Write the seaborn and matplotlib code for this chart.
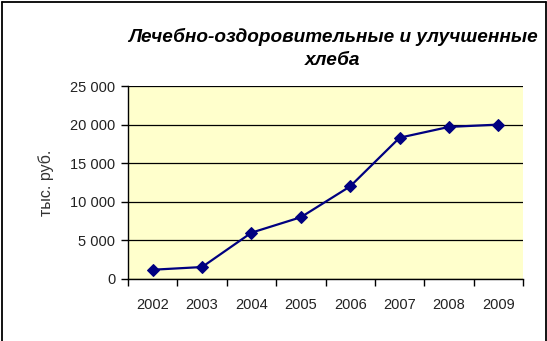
import matplotlib
matplotlib.use("Agg")
import matplotlib.pyplot as plt
import seaborn as sns
import numpy as np
import pandas as pd
from matplotlib.ticker import FuncFormatter, FixedLocator
from matplotlib.lines import Line2D

years = ["2002", "2003", "2004", "2005", "2006", "2007", "2008", "2009"]
values = [1200, 1550, 6000, 8000, 12000, 18300, 19700, 20000]
title = "Лечебно-оздоровительные и улучшенные\nхлеба"
ylabel = "тыс. руб."

sns.set_theme(style="white")
plt.rcParams["font.family"] = ["Liberation Sans", "DejaVu Sans"]

df = pd.DataFrame({"pos": np.arange(len(years)), "value": values})

fig = plt.figure(figsize=(5.47, 3.41), dpi=100)
ax = fig.add_axes([128/547, 1 - 279/341, (523-128)/547, (279-86)/341])
ax.set_facecolor("#FFFFCC")

sns.lineplot(data=df, x="pos", y="value", ax=ax, color="#000080",
             marker="D", markersize=6, markeredgecolor="#000080", linewidth=1.6)

ax.set_xlim(-0.5, len(years) - 0.5)
ax.set_ylim(0, 25000)
ax.set_yticks(np.arange(0, 25001, 5000))
ax.yaxis.set_major_formatter(FuncFormatter(lambda v, p: f"{int(v):,}".replace(",", " ")))
ax.grid(axis="y", color="black", linewidth=0.9)
ax.set_axisbelow(True)

ax.set_xticks(np.arange(len(years)))
ax.set_xticklabels(years)
ax.xaxis.set_minor_locator(FixedLocator(np.arange(-0.5, len(years), 1.0)))
ax.tick_params(axis="x", which="major", length=0, pad=14, labelsize=10.5, colors="#222222")
ax.tick_params(axis="x", which="minor", length=5, width=1, color="black", direction="out", bottom=True)
ax.tick_params(axis="y", which="major", length=5, width=1, color="black", direction="out", left=True,
               labelsize=10.5, colors="#222222", pad=4)

for s in ["top", "right"]:
    ax.spines[s].set_visible(False)
for s in ["left", "bottom"]:
    ax.spines[s].set_color("black")
    ax.spines[s].set_linewidth(1)

ax.set_xlabel("")
ax.set_ylabel(ylabel, fontsize=11.5, color="#333333", labelpad=12)

fig.text(333/547, 1 - 48.5/341, title, ha="center", va="center", fontsize=13.7,
         fontweight="bold", fontstyle="italic", linespacing=1.47, color="black")

# outer frame (left, top, right)
fig.add_artist(Line2D([1.5/547, 1.5/547], [0, 1 - 1.5/341], transform=fig.transFigure, color="black", lw=1.3))
fig.add_artist(Line2D([1.5/547, 545.5/547], [1 - 1.5/341, 1 - 1.5/341], transform=fig.transFigure, color="black", lw=1.3))
fig.add_artist(Line2D([545.5/547, 545.5/547], [0, 1 - 1.5/341], transform=fig.transFigure, color="black", lw=1.3))

fig.savefig("out.png", dpi=100)
